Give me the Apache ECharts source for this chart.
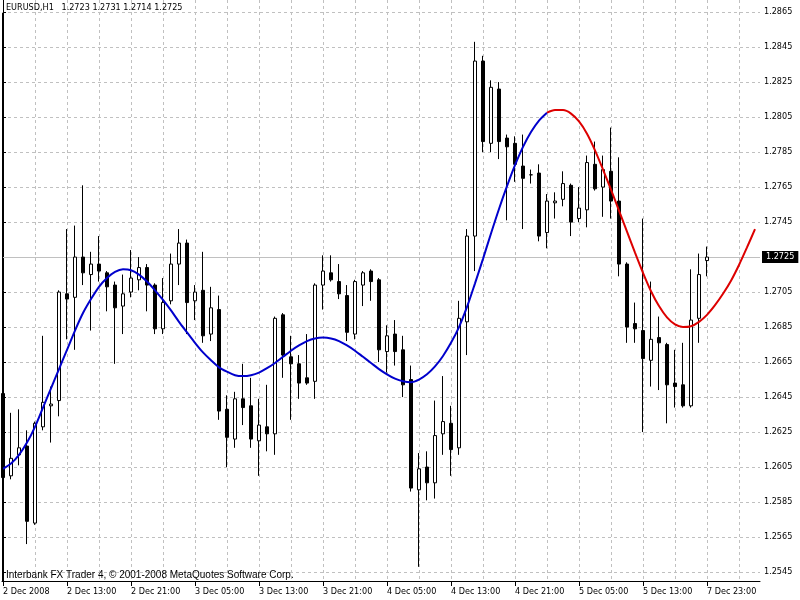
<!DOCTYPE html>
<html><head><meta charset="utf-8">
<script src="https://cdn.jsdelivr.net/npm/echarts@6/dist/echarts.min.js"></script>
<style>html,body{margin:0;padding:0;background:#fff}#c{width:800px;height:600px}</style>
</head><body><div id="c"></div>
<script>
// ---- data ----
const symbolName = 'EURUSD,H1';
const lastQuote = [1.2723, 1.2731, 1.2714, 1.2725]; // O H L C of the last bar
const currentPrice = 1.2725;

const opens  = [1.2647,1.2600,1.2612,1.2617,1.2573,1.2628,1.2640,1.2643,1.2704,1.2702,
                1.2725,1.2715,1.2721,1.2716,1.2709,1.2697,1.2705,1.2712,1.2719,1.2709,
                1.2684,1.2700,1.2721,1.2733,1.2700,1.2706,1.2681,1.2695,1.2638,1.2621,
                1.2644,1.2640,1.2620,1.2628,1.2624,1.2692,1.2668,1.2664,1.2656,1.2654,
                1.2709,1.2716,1.2711,1.2703,1.2681,1.2709,1.2717,1.2712,1.2671,1.2681,
                1.2672,1.2655,1.2592,1.2605,1.2596,1.2624,1.2630,1.2616,1.2688,1.2737,
                1.2837,1.2790,1.2821,1.2793,1.2790,1.2777,1.2772,1.2773,1.2739,1.2756,
                1.2758,1.2766,1.2747,1.2752,1.2778,1.2765,1.2774,1.2757,1.2721,1.2687,
                1.2683,1.2666,1.2679,1.2675,1.2653,1.2652,1.2640,1.2690,1.2723];
const highs  = [1.2651,1.2636,1.2638,1.2626,1.2631,1.2680,1.2651,1.2706,1.2741,1.2743,
                1.2766,1.2728,1.2737,1.2717,1.2711,1.2715,1.2729,1.2725,1.2721,1.2710,
                1.2713,1.2727,1.2741,1.2735,1.2709,1.2728,1.2708,1.2703,1.2646,1.2648,
                1.2664,1.2656,1.2644,1.2652,1.2691,1.2693,1.2680,1.2669,1.2681,1.2710,
                1.2726,1.2726,1.2721,1.2709,1.2712,1.2717,1.2718,1.2713,1.2686,1.2689,
                1.2680,1.2663,1.2613,1.2614,1.2643,1.2657,1.2640,1.2700,1.2741,1.2848,
                1.2840,1.2826,1.2825,1.2795,1.2794,1.2795,1.2775,1.2778,1.2761,1.2762,
                1.2774,1.2767,1.2765,1.2783,1.2791,1.2783,1.2799,1.2782,1.2722,1.2699,
                1.2747,1.2711,1.2691,1.2676,1.2672,1.2676,1.2718,1.2727,1.2731];
const lows   = [1.2597,1.2598,1.2606,1.2561,1.2572,1.2626,1.2619,1.2634,1.2678,1.2672,
                1.2709,1.2683,1.2711,1.2694,1.2664,1.2681,1.2702,1.2706,1.2694,1.2681,
                1.2681,1.2698,1.2709,1.2681,1.2689,1.2676,1.2677,1.2632,1.2605,1.2616,
                1.2629,1.2616,1.2600,1.2614,1.2612,1.2656,1.2632,1.2644,1.2652,1.2644,
                1.2695,1.2711,1.2701,1.2677,1.2678,1.2697,1.2700,1.2665,1.2659,1.2663,
                1.2645,1.2591,1.2548,1.2586,1.2587,1.2612,1.2600,1.2612,1.2669,1.2717,
                1.2785,1.2785,1.2781,1.2746,1.2768,1.2741,1.2767,1.2734,1.2730,1.2747,
                1.2754,1.2737,1.2745,1.2742,1.2763,1.2748,1.2747,1.2714,1.2676,1.2676,
                1.2625,1.2651,1.2649,1.2630,1.2639,1.2639,1.2639,1.2676,1.2714];
const closes = [1.2599,1.2610,1.2616,1.2574,1.2630,1.2642,1.2641,1.2705,1.2701,1.2725,
                1.2716,1.2721,1.2717,1.2708,1.2696,1.2704,1.2713,1.2719,1.2709,1.2684,
                1.2699,1.2721,1.2733,1.2699,1.2705,1.2680,1.2696,1.2637,1.2622,1.2644,
                1.2639,1.2621,1.2629,1.2624,1.2690,1.2669,1.2664,1.2653,1.2653,1.2709,
                1.2717,1.2712,1.2704,1.2682,1.2711,1.2716,1.2711,1.2672,1.2680,1.2671,
                1.2652,1.2593,1.2604,1.2596,1.2623,1.2631,1.2615,1.2690,1.2737,1.2837,
                1.2791,1.2822,1.2791,1.2788,1.2778,1.2770,1.2772,1.2737,1.2757,1.2757,
                1.2767,1.2745,1.2753,1.2779,1.2764,1.2775,1.2757,1.2721,1.2685,1.2684,
                1.2667,1.2678,1.2676,1.2652,1.2651,1.2640,1.2689,1.2715,1.2725];

// fitted curve (blue), from bar 0
const fitStart = 0;
const fitValues = [1.26040,1.26070,1.26120,1.26190,1.26280,1.26390,1.26500,1.26610,1.26720,1.26830,
                   1.26930,1.27010,1.27080,1.27130,1.27165,1.27180,1.27175,1.27150,1.27110,1.27060,
                   1.27005,1.26945,1.26880,1.26820,1.26760,1.26705,1.26660,1.26620,1.26595,1.26575,
                   1.26570,1.26575,1.26590,1.26615,1.26645,1.26680,1.26715,1.26745,1.26770,1.26785,
                   1.26790,1.26785,1.26770,1.26745,1.26715,1.26680,1.26645,1.26610,1.26580,1.26555,
                   1.26540,1.26535,1.26550,1.26580,1.26625,1.26685,1.26760,1.26850,1.26965,1.27100,
                   1.27240,1.27385,1.27525,1.27655,1.27775,1.27880,1.27965,1.28030,1.28075];
// projected curve (red), from bar 68
const projStart = 68;
const projValues = [1.28075,1.28090,1.28090,1.28070,1.28025,1.27955,1.27860,1.27750,1.27635,1.27515,
                    1.27395,1.27275,1.27160,1.27055,1.26970,1.26905,1.26865,1.26850,1.26855,1.26880,
                    1.26920,1.26975,1.27040,1.27115,1.27205,1.27305,1.27410];

const timeTickIndex  = [0,8,16,24,32,40,48,56,64,72,80,88];
const timeTickLabels = ['2 Dec 2008','2 Dec 13:00','2 Dec 21:00','3 Dec 05:00','3 Dec 13:00','3 Dec 21:00',
                        '4 Dec 05:00','4 Dec 13:00','4 Dec 21:00','5 Dec 05:00','5 Dec 13:00','7 Dec 23:00'];
const priceTicks = [1.2545,1.2565,1.2585,1.2605,1.2625,1.2645,1.2665,1.2685,1.2705,1.2725,
                    1.2745,1.2765,1.2785,1.2805,1.2825,1.2845,1.2865];
const gridBarStep = 4;
const copyright = 'Interbank FX Trader 4, \u00A9 2001-2008 MetaQuotes Software Corp.';

// ---- build ----
const candles = opens.map((o, i) => [i, o, closes[i], lows[i], highs[i]]);
const fitData = fitValues.map((v, k) => [fitStart + k, v]);
const projData = projValues.map((v, k) => [projStart + k, v]);
const gridTicks = [];
for (let i = 0; i <= 94; i += gridBarStep) gridTicks.push(i);

const FONT = '"DejaVu Sans Condensed", "Liberation Sans", Arial, sans-serif';
const CSSFONT = '9px "DejaVu Sans Condensed", "Liberation Sans", Arial, sans-serif';
const X_MIN = -0.125, X_MAX = 94.625;
const Y_MIN = 1.25399, Y_MAX = 1.28719;
const GRID_COLOR = '#c0c0c0';

const chart = echarts.init(document.getElementById('c'), null, {renderer: 'canvas'});
chart.setOption({
  animation: false,
  backgroundColor: '#fff',
  grid: {left: 2, right: 40, top: 0, bottom: 19, show: false},
  xAxis: [
    {
      type: 'value', min: X_MIN, max: X_MAX, position: 'bottom',
      axisLine: {show: true, onZero: false, lineStyle: {color: '#000', width: 1}},
      axisTick: {show: true, length: 5, customValues: timeTickIndex, lineStyle: {color: '#000'}},
      axisLabel: {
        show: true, customValues: timeTickIndex,
        formatter: v => timeTickLabels[timeTickIndex.indexOf(Math.round(v))] || '',
        align: 'left', margin: 6, color: '#000', fontSize: 9, fontFamily: FONT
      },
      splitLine: {show: false}
    },
    {
      type: 'value', min: X_MIN, max: X_MAX, position: 'bottom',
      axisLine: {show: false},
      axisTick: {show: false, customValues: gridTicks},
      axisLabel: {show: false, customValues: gridTicks},
      splitLine: {show: true, lineStyle: {color: GRID_COLOR, width: 1, type: [3, 3]}}
    }
  ],
  yAxis: [{
    type: 'value', position: 'right', min: Y_MIN, max: Y_MAX, scale: true,
    axisLine: {show: true, lineStyle: {color: '#000', width: 1}},
    axisTick: {show: true, length: 3, customValues: priceTicks, lineStyle: {color: '#000'}},
    axisLabel: {customValues: priceTicks, formatter: v => v.toFixed(4), margin: 4,
                color: '#000', fontSize: 9, fontFamily: FONT},
    splitLine: {show: true, lineStyle: {color: GRID_COLOR, width: 1, type: [3, 3]}}
  }],
  series: [
    {
      type: 'candlestick', xAxisIndex: 0, yAxisIndex: 0,
      data: candles, encode: {x: 0, y: [1, 2, 3, 4]},
      barWidth: 4,
      itemStyle: {color: '#fff', color0: '#000', borderColor: '#000', borderColor0: '#000',
                  borderColorDoji: '#000', borderWidth: 1},
      emphasis: {disabled: true},
      z: 2
    },
    {
      type: 'line', xAxisIndex: 0, yAxisIndex: 0, data: fitData,
      symbol: 'none', showSymbol: false, smooth: 0.3,
      lineStyle: {color: '#0000cc', width: 2}, z: 3, emphasis: {disabled: true},
      markLine: {
        silent: true, symbol: ['none', 'none'], animation: false, precision: 4,
        data: [{yAxis: currentPrice}],
        lineStyle: {color: GRID_COLOR, type: 'solid', width: 1},
        label: {show: true, position: 'end', distance: 2, formatter: currentPrice.toFixed(4),
                backgroundColor: '#000', color: '#fff', fontSize: 9, fontFamily: FONT,
                padding: [2, 4, 1, 4]},
        emphasis: {disabled: true},
        z: 1
      }
    },
    {
      type: 'line', xAxisIndex: 0, yAxisIndex: 0, data: projData,
      symbol: 'none', showSymbol: false, smooth: 0.3,
      lineStyle: {color: '#dd0000', width: 2}, z: 3, emphasis: {disabled: true}
    }
  ],
  graphic: [
    {type: 'line', shape: {x1: 2.5, y1: 13, x2: 2.5, y2: 581}, style: {stroke: '#000', lineWidth: 1}, z: 10},
    {type: 'text', left: 6, top: 3, z: 10,
     style: {text: symbolName + '   ' + lastQuote.map(v => v.toFixed(4)).join(' '),
             font: CSSFONT, fill: '#000'}},
    {type: 'text', left: 6, top: 570, z: 10,
     style: {text: copyright, font: '10px "Liberation Sans", Arial, sans-serif', fill: '#000'}}
  ]
});
</script></body></html>
